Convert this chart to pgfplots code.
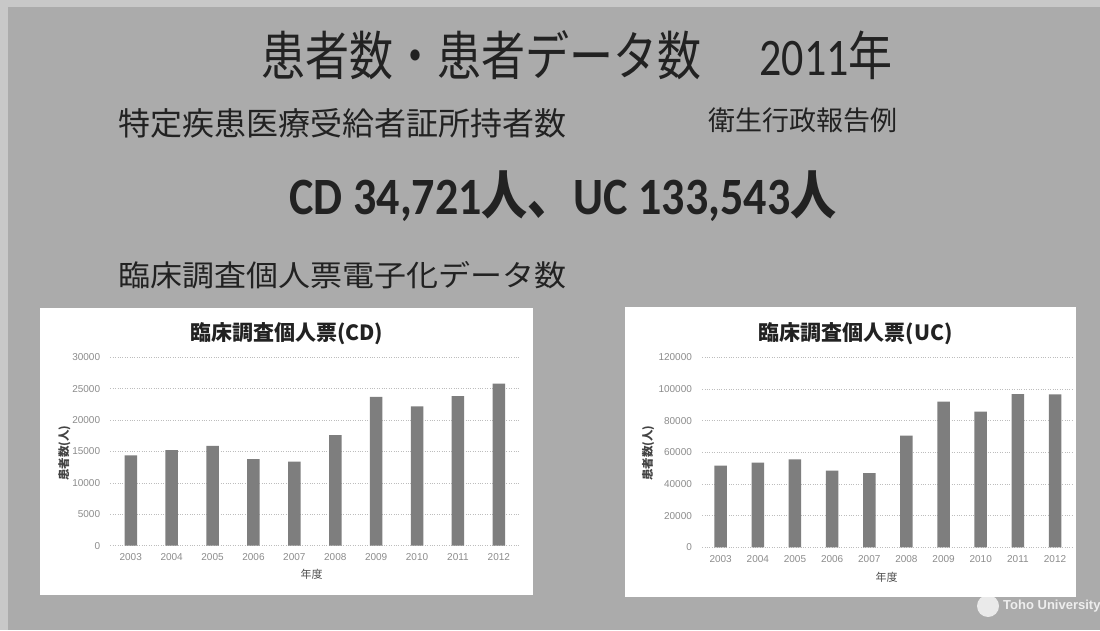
\documentclass[border=0pt]{standalone}
\usepackage{pgfplots}
\pgfplotsset{compat=1.18}
\usepackage{fontspec}
\setmainfont{Liberation Sans}
\newfontfamily\cjk{Noto Sans CJK JP}
\newfontfamily\carlito{Carlito}
\definecolor{bg}{HTML}{ABABAB}
\definecolor{bgtop}{HTML}{C8C8C8}
\definecolor{barcol}{HTML}{7E7E7E}
\definecolor{txt}{HTML}{222222}
\definecolor{ticktxt}{HTML}{8C8C8C}
\definecolor{gridcol}{HTML}{BDBDBD}

\pgfplotsset{
  slidebar/.style={
    scale only axis,
    anchor=south west,
    xmin=2002.5, xmax=2012.5, ymin=0,
    xtick={2003,2004,2005,2006,2007,2008,2009,2010,2011,2012},
    xticklabels={2003,2004,2005,2006,2007,2008,2009,2010,2011,2012},
    axis line style={draw=none},
    tick style={draw=none},
    scaled y ticks=false,
    ymajorgrids, grid style={dotted, gridcol, line width=0.8pt},
    ticklabel style={font=\fontsize{10}{10}\selectfont, text=ticktxt},
    yticklabel style={inner sep=0pt, xshift=-10pt},
    xticklabel style={inner sep=0pt, yshift=-8pt},
    title style={anchor=center, font=\cjk\bfseries\fontsize{21}{22}\selectfont, text=txt},
    xlabel style={anchor=center, font=\cjk\fontsize{11}{12}\selectfont, text=txt!80},
    ylabel style={anchor=center, font=\cjk\bfseries\fontsize{11.5}{12}\selectfont, text=txt!85},
  }
}

\begin{document}
\begin{tikzpicture}
\fill[bg] (0pt,0pt) rectangle (1100pt,630pt);
\fill[bgtop] (0pt,623pt) rectangle (1100pt,630pt);
\fill[bgtop] (0pt,0pt) rectangle (8pt,630pt);
\useasboundingbox (0pt,0pt) rectangle (1100pt,630pt);

% slide texts
\node[anchor=center, text=txt, inner sep=0pt] at (577pt,575pt)
  {\scalebox{1}[1.2]{\fontsize{44}{44}\selectfont\cjk 患者数・患者データ数\hspace{58pt}{\carlito 2011}年}};
\node[anchor=west, text=txt, inner sep=0pt] at (118pt,507pt)
  {\fontsize{32}{32}\selectfont\cjk 特定疾患医療受給者証所持者数};
\node[anchor=west, text=txt, inner sep=0pt] at (708pt,510pt)
  {\fontsize{27}{27}\selectfont\cjk 衛生行政報告例};
\node[anchor=center, text=txt, inner sep=0pt] at (563pt,434pt)
  {\scalebox{1}[1.14]{\fontsize{46}{46}\selectfont\carlito\bfseries CD 34,721{\cjk 人、}UC 133,543{\cjk 人}}};
\node[anchor=west, text=txt, inner sep=0pt] at (118pt,355pt)
  {\scalebox{1}[0.92]{\fontsize{32}{32}\selectfont\cjk 臨床調査個人票電子化データ数}};

% logo (mostly hidden under the panel)
\node[anchor=west, text=white!80!bg, inner sep=0pt] at (1003pt,24pt)
  {\fontsize{13}{13}\selectfont\bfseries Toho University};
\fill[white!75!bg] (988pt,24pt) circle (11pt);

% panels
\fill[white] (40pt,35pt) rectangle (533pt,322pt);
\fill[white] (625pt,33pt) rectangle (1076pt,323pt);

% CD chart
\begin{axis}[slidebar,
  at={(110.3pt,84.3pt)},
  width=409pt, height=188.4pt,
  ymax=30000, ytick={0,5000,10000,15000,20000,25000,30000},
  yticklabels={0,5000,10000,15000,20000,25000,30000},
  title={臨床調査個人票(CD)},
  title style={at={(rel axis cs:0.431,1.094)}},
  xlabel={年度},
  xlabel style={at={(rel axis cs:0.492,-0.154)}},
  ylabel={患者数(人)},
  ylabel style={at={(rel axis cs:-0.112,0.492)}},
]
\addplot[ybar, bar width=12.5pt, fill=barcol, draw=none] coordinates {
(2003,14400) (2004,15200) (2005,15900) (2006,13800) (2007,13400)
(2008,17600) (2009,23700) (2010,22200) (2011,23800) (2012,25800)};
\end{axis}

% UC chart
\begin{axis}[slidebar,
  at={(702.1pt,82.7pt)},
  width=371.5pt, height=190pt,
  ymax=120000, ytick={0,20000,40000,60000,80000,100000,120000},
  yticklabels={0,20000,40000,60000,80000,100000,120000},
  title={臨床調査個人票(UC)},
  title style={at={(rel axis cs:0.414,1.093)}},
  xlabel={年度},
  xlabel style={at={(rel axis cs:0.497,-0.156)}},
  ylabel={患者数(人)},
  ylabel style={at={(rel axis cs:-0.145,0.496)}},
]
\addplot[ybar, bar width=12.5pt, fill=barcol, draw=none] coordinates {
(2003,51600) (2004,53500) (2005,55600) (2006,48400) (2007,46900)
(2008,70500) (2009,92000) (2010,85700) (2011,96800) (2012,96600)};
\end{axis}
\end{tikzpicture}
\end{document}
